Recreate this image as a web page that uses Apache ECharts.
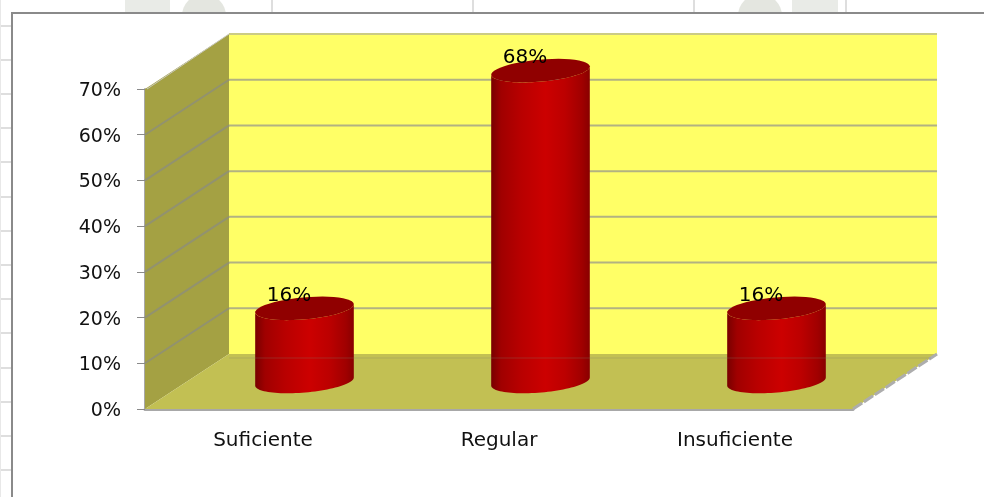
<!DOCTYPE html>
<html>
<head>
<meta charset="utf-8">
<style>html,body{margin:0;padding:0;background:#fff}#chart{width:984px;height:497px}</style>
<script src="https://cdn.jsdelivr.net/npm/echarts@6/dist/echarts.min.js"></script>
</head>
<body>
<div id="chart"></div>
<script>
const categories = ['Suficiente', 'Regular', 'Insuficiente'];
const percentages = [16, 68, 16];
const gridValues = [0, 10, 20, 30, 40, 50, 60, 70];

// Oblique projection: how far the back wall sits from the front plane.
const DEPTH_X = 84;
const DEPTH_Y = -55;
const CYL_RX = 49.5;
const CYL_RY = 11;
const CYL_TILT = -5 * Math.PI / 180;
const FONT = '"DejaVu Sans", "Noto Sans", sans-serif';

function ellipsePoint(cx, cy, a) {
  const x = CYL_RX * Math.cos(a), y = CYL_RY * Math.sin(a);
  return [cx + x * Math.cos(CYL_TILT) - y * Math.sin(CYL_TILT),
          cy + x * Math.sin(CYL_TILT) + y * Math.cos(CYL_TILT)];
}
function arc(cx, cy, from, to) {
  const pts = [];
  for (let i = 0; i <= 48; i++) pts.push(ellipsePoint(cx, cy, from + (to - from) * i / 48));
  return pts;
}

// Walls and floor of the box, spanning the cartesian grid.
function renderBox(params, api) {
  const g = params.coordSys;
  const x0 = g.x, x1 = g.x + g.width;
  const yb = api.coord([0, 0])[1], yt = api.coord([0, 70])[1];
  const poly = (points, fill) => ({ type: 'polygon', shape: { points }, style: { fill } });
  return { type: 'group', children: [
    poly([[x0 + DEPTH_X, yb + DEPTH_Y], [x1 + DEPTH_X, yb + DEPTH_Y], [x1 + DEPTH_X, yt + DEPTH_Y], [x0 + DEPTH_X, yt + DEPTH_Y]], '#ffff66'),
    poly([[x0, yb], [x0 + DEPTH_X, yb + DEPTH_Y], [x0 + DEPTH_X, yt + DEPTH_Y], [x0, yt]], '#a4a143'),
    poly([[x0, yb], [x1, yb], [x1 + DEPTH_X, yb + DEPTH_Y], [x0 + DEPTH_X, yb + DEPTH_Y]], '#c2c053'),
    { type: 'line', shape: { x1: x1, y1: yb, x2: x1 + DEPTH_X, y2: yb + DEPTH_Y },
      style: { stroke: '#adadad', lineWidth: 3, lineDash: [11, 2] } },
    { type: 'line', shape: { x1: x0 + 2, y1: yt, x2: x0 + DEPTH_X, y2: yt + DEPTH_Y },
      style: { stroke: '#c9c9c0', lineWidth: 1 } }
  ] };
}

// One gridline per axis value, running along the side wall and the back wall.
function renderGridLine(params, api) {
  const g = params.coordSys;
  const v = api.value(0);
  const y = api.coord([0, v])[1];
  const x0 = g.x, x1 = g.x + g.width;
  if (v === 0) return { type: 'group', children: [] };
  const color = v === 70 ? '#cbcb84' : '#b2b282';
  return { type: 'group', children: [
    { type: 'polyline', shape: { points: [[x0, y], [x0 + DEPTH_X, y + DEPTH_Y]] },
      style: { stroke: v === 70 ? 'rgba(0,0,0,0)' : '#92926f', lineWidth: 2, fill: null } },
    { type: 'line', shape: { x1: x0 + DEPTH_X, y1: y + DEPTH_Y, x2: x1 + DEPTH_X, y2: y + DEPTH_Y },
      style: { stroke: color, lineWidth: 2 } }
  ] };
}

// A cylinder standing halfway into the box, with its percentage label.
function renderCylinder(params, api) {
  const val = api.value(1);
  const base = api.coord([api.value(0), 0]);
  const top = api.coord([api.value(0), val]);
  const cx = base[0] + DEPTH_X / 2 - 0.5;
  const cyBase = base[1] + DEPTH_Y / 2;
  const cyTop = top[1] + DEPTH_Y / 2;
  const body = arc(cx, cyTop, Math.PI, 0).concat(arc(cx, cyBase, 0, Math.PI));
  return { type: 'group', children: [
    { type: 'polygon', shape: { points: body }, style: {
      fill: new echarts.graphic.LinearGradient(0, 0, 1, 0, [
        { offset: 0, color: '#780000' },
        { offset: 0.1, color: '#a00000' },
        { offset: 0.3, color: '#b80000' },
        { offset: 0.55, color: '#cc0000' },
        { offset: 0.75, color: '#bc0000' },
        { offset: 0.92, color: '#a00000' },
        { offset: 1, color: '#880000' }
      ]) } },
    { type: 'polygon', shape: { points: arc(cx, cyTop, 0, Math.PI * 2) }, style: { fill: '#900000' } },
    { type: 'text', x: cx - 15.5, y: cyTop - 13, style: {
      text: val + '%', fill: '#000', font: '20px ' + FONT, align: 'center', verticalAlign: 'middle' } }
  ] };
}

// Thin seam that crosses the floor and the cylinders just below the back wall.
function renderSeam(params, api) {
  const g = params.coordSys;
  const y = api.coord([0, 0])[1] + DEPTH_Y + 4;
  return { type: 'line', shape: { x1: g.x + DEPTH_X, y1: y, x2: g.x + g.width + DEPTH_X - 6, y2: y },
    style: { stroke: 'rgba(130,130,110,0.3)', lineWidth: 1 } };
}

// Surroundings of the chart frame: sheet cell lines and the frame itself.
const CELL_ROWS = [26, 60, 94, 128, 162, 197, 231, 265, 299, 333, 368, 402, 436, 470];
const CELL_COLUMNS = [272, 473, 694, 846];
const decor = [];
CELL_ROWS.forEach(y => decor.push({ type: 'rect', shape: { x: 0, y: y - 1, width: 11, height: 2 }, style: { fill: '#dedede' } }));
CELL_COLUMNS.forEach(x => decor.push({ type: 'rect', shape: { x: x - 1, y: 0, width: 2, height: 12 }, style: { fill: '#dedede' } }));
decor.push({ type: 'rect', shape: { x: 0, y: 0, width: 1, height: 497 }, style: { fill: '#e8e8e8' } });
[[125, 45], [792, 46]].forEach(r => decor.push({ type: 'rect', shape: { x: r[0], y: 0, width: r[1], height: 12 }, style: { fill: '#e9ebe7' } }));
[[204, 22], [760, 22]].forEach(c => decor.push({ type: 'circle', shape: { cx: c[0], cy: 16, r: c[1] }, style: { fill: '#e4e6e0' } }));
decor.push({ type: 'rect', shape: { x: 12, y: 12, width: 972, height: 485 }, style: { fill: '#fff' } });
decor.push({ type: 'rect', shape: { x: 11, y: 12, width: 973, height: 2 }, style: { fill: '#8a8a8a' } });
decor.push({ type: 'rect', shape: { x: 11, y: 12, width: 2, height: 485 }, style: { fill: '#8a8a8a' } });

const chart = echarts.init(document.getElementById('chart'), null, { renderer: 'canvas' });
chart.setOption({
  animation: false,
  backgroundColor: '#fff',
  graphic: decor.map(d => Object.assign({ z: -1 }, d)),
  grid: { left: 145, top: 89, width: 708, height: 320 },
  xAxis: {
    type: 'category',
    data: categories,
    axisLine: { lineStyle: { color: '#a8a8a8', width: 3 } },
    axisTick: { length: 8, lineStyle: { color: '#8a8a8a', width: 1 } },
    axisLabel: { color: '#111', fontFamily: FONT, fontSize: 20, margin: 22 }
  },
  yAxis: {
    type: 'value', min: 0, max: 70, interval: 10,
    axisLine: { show: true, lineStyle: { color: '#a8a8a8', width: 2 } },
    axisTick: { show: true, length: 8, lineStyle: { color: '#8a8a8a', width: 1 } },
    axisLabel: { color: '#111', fontFamily: FONT, fontSize: 19, margin: 24, verticalAlign: 'top', lineHeight: 4, formatter: '{value}%' },
    splitLine: { show: false }
  },
  series: [
    { type: 'custom', clip: false, silent: true, data: [[0]], renderItem: renderBox, encode: { x: -1, y: -1 } },
    { type: 'custom', clip: false, silent: true, data: gridValues.map(v => [v]), renderItem: renderGridLine, encode: { y: 0 } },
    { type: 'custom', clip: false, silent: true,
      data: percentages.map((p, i) => [i, p]), renderItem: renderCylinder, encode: { x: 0, y: 1 } },
    { type: 'custom', clip: false, silent: true, data: [[0]], renderItem: renderSeam, encode: { x: -1, y: -1 } }
  ]
});
</script>
</body>
</html>
